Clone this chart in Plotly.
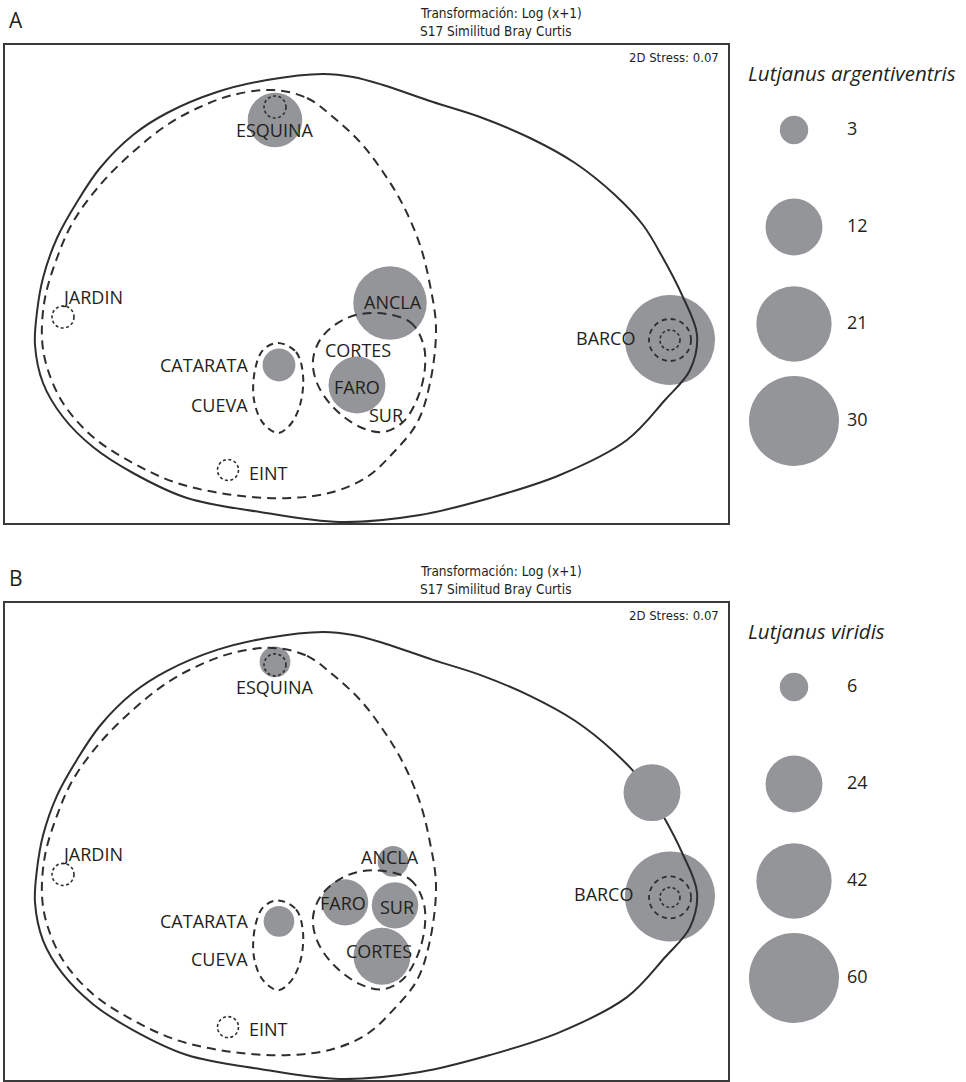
import plotly.graph_objects as go

# ---------------- nMDS ordination: group contours (shared by both panels) ----------------
# outer solid contour
solid_x = [3.31, 3.24, 2.99, 2.61, 1.94, 1.24, 0.54, -0.26, -1.06, -1.79, -2.33, -2.73, -3.03,
           -3.23, -3.31, -3.29, -3.23, -3.09, -2.89, -2.66, -2.33, -1.99, -1.49, -0.99, -0.43,
           -0.13, 0.17, 0.67, 1.14, 1.64, 2.09, 2.49, 2.77, 2.97, 3.16, 3.31]
solid_y = [-0.51, -0.86, -1.16, -1.56, -1.91, -2.14, -2.31, -2.38, -2.28, -2.14, -1.89, -1.63, -1.33,
           -0.99, -0.61, -0.28, 0.06, 0.46, 0.82, 1.16, 1.49, 1.71, 1.92, 2.04, 2.10,
           2.07, 1.99, 1.82, 1.67, 1.46, 1.21, 0.89, 0.59, 0.26, -0.11, -0.51]

# large dashed contour
big_x = [-0.93, -0.59, -0.33, -0.06, 0.17, 0.37, 0.54, 0.64, 0.70, 0.64, 0.51, 0.27, 0.01,
         -0.33, -0.76, -1.33, -1.89, -2.33, -2.73, -3.03, -3.19, -3.24, -3.21, -3.09, -2.93,
         -2.66, -2.33, -1.99, -1.66, -1.33, -0.93]
big_y = [1.94, 1.86, 1.67, 1.42, 1.12, 0.79, 0.39, -0.01, -0.44, -0.99, -1.39, -1.69, -1.93,
         -2.08, -2.14, -2.11, -1.99, -1.79, -1.53, -1.19, -0.83, -0.54, -0.14, 0.26, 0.62,
         0.99, 1.32, 1.59, 1.77, 1.89, 1.94]

# dashed contour around CORTES / FARO / SUR / ANCLA
mid_x = [0.11, 0.44, 0.57, 0.59, 0.52, 0.37, 0.17, -0.06, -0.33, -0.49, -0.53, -0.44, -0.19, 0.11]
mid_y = [-0.29, -0.38, -0.59, -0.83, -1.13, -1.38, -1.48, -1.43, -1.23, -0.99, -0.76, -0.53, -0.34, -0.29]

# dashed contour around CATARATA / CUEVA
cat_x = [-0.88, -0.70, -0.63, -0.66, -0.76, -0.88, -1.03, -1.12, -1.11, -1.03, -0.88]
cat_y = [-0.59, -0.68, -0.91, -1.21, -1.41, -1.49, -1.39, -1.16, -0.86, -0.66, -0.59]

# small rings: JARDIN, EINT, ESQUINA, BARCO (outer), BARCO (inner)
ring_x = [-3.03, -1.38, -0.91, 3.04, 3.04]
ring_y = [-0.33, -1.86, 1.77, -0.56, -0.56]

# ---------------- panel A: Lutjanus argentiventris ----------------
sites_a = ["ESQUINA", "ANCLA", "FARO", "CATARATA", "BARCO"]
bub_x_a = [-0.91, 0.24, -0.09, -0.87, 3.04]
bub_y_a = [1.64, -0.19, -1.01, -0.81, -0.56]
abund_a = [11, 20, 12, 4, 30]
legend_vals_a = [3, 12, 21, 30]

# ---------------- panel B: Lutjanus viridis ----------------
sites_b = ["ESQUINA", "ANCLA", "FARO", "SUR", "CORTES", "CATARATA", "BARCO"]
bub_x_b = [-0.91, 0.27, -0.21, 0.29, 0.16, -0.87, 3.04]
bub_y_b = [1.80, -0.20, -0.61, -0.64, -1.15, -0.80, -0.55]
abund_b = [7, 7, 16, 16, 24, 7, 60]
top_x_b = [2.86]
top_y_b = [0.49]
top_abund_b = [24]
legend_vals_b = [6, 24, 42, 60]

# ---------------- site labels ----------------
label_names = ["ESQUINA", "JARDIN", "ANCLA", "CORTES", "FARO", "SUR", "CATARATA", "CUEVA", "BARCO", "EINT"]
label_x_a = [-0.91, -3.06, 0.27, -0.08, -0.09, 0.20, -1.16, -1.16, 2.71, -1.19]
label_y_a = [1.54, -0.13, -0.18, -0.66, -1.03, -1.31, -0.81, -1.21, -0.54, -1.89]
label_x_b = [-0.91, -3.06, 0.24, 0.13, -0.23, 0.31, -1.16, -1.16, 2.69, -1.19]
label_y_b = [1.55, -0.13, -0.16, -1.10, -0.62, -0.66, -0.80, -1.18, -0.53, -1.88]

# ---------------- styling ----------------
W, H = 966, 1082
INK = "#231f20"
LINE = "#2e2e2e"
BUBBLE = "#939598"
MAX_R = 45  # px radius of the largest legend bubble
label_anchor = ["center", "left", "center", "center", "center", "center", "right", "right", "right", "left"]
ring_r = [11, 10.5, 11, 21, 10]
ring_dash = ["3px,2.5px", "3px,2.5px", "3px,2.5px", "5px,4px", "3px,2.5px"]
ring_w = [1.6, 1.6, 1.6, 1.8, 1.6]
HEAD_FONT = "Liberation Sans Narrow, DejaVu Sans Condensed, Open Sans, sans-serif"
LABEL_FONT = "Open Sans, Noto Sans, sans-serif"


def px_x(px):
    return px / W


def px_y(py):
    return 1 - py / H


fig = go.Figure()


def bubble_marker(sizes, sizeref):
    return dict(size=sizes, sizemode="area", sizeref=sizeref, color=BUBBLE,
                line=dict(width=0), opacity=1)


def add_panel(xa, ya, bx, by, ab, extra, legend_vals, lx, ly):
    sizeref = max(legend_vals) / (2.0 * MAX_R ** 2)
    # abundance bubbles (below the contours)
    fig.add_trace(go.Scatter(x=bx, y=by, mode="markers", xaxis=xa, yaxis=ya, showlegend=False,
                             hoverinfo="skip", marker=bubble_marker(ab, sizeref)))
    # contours
    fig.add_trace(go.Scatter(x=solid_x, y=solid_y, mode="lines", xaxis=xa, yaxis=ya, showlegend=False,
                             hoverinfo="skip", line=dict(color=LINE, width=2, shape="spline", smoothing=1)))
    fig.add_trace(go.Scatter(x=big_x, y=big_y, mode="lines", xaxis=xa, yaxis=ya, showlegend=False,
                             hoverinfo="skip",
                             line=dict(color=LINE, width=2, dash="9px,6px", shape="spline", smoothing=1)))
    fig.add_trace(go.Scatter(x=mid_x, y=mid_y, mode="lines", xaxis=xa, yaxis=ya, showlegend=False,
                             hoverinfo="skip",
                             line=dict(color=LINE, width=2, dash="9px,6px", shape="spline", smoothing=1)))
    fig.add_trace(go.Scatter(x=cat_x, y=cat_y, mode="lines", xaxis=xa, yaxis=ya, showlegend=False,
                             hoverinfo="skip",
                             line=dict(color=LINE, width=2, dash="7px,5px", shape="spline", smoothing=1)))
    # bubble lying over the outer contour
    if extra is not None:
        ex, ey, ea = extra
        fig.add_trace(go.Scatter(x=ex, y=ey, mode="markers", xaxis=xa, yaxis=ya, showlegend=False,
                                 hoverinfo="skip", marker=bubble_marker(ea, sizeref)))
    # rings
    for cx, cy, r, d, w in zip(ring_x, ring_y, ring_r, ring_dash, ring_w):
        fig.add_shape(type="circle", xref=xa, yref=ya, xsizemode="pixel", ysizemode="pixel",
                      xanchor=cx, yanchor=cy, x0=-r, x1=r, y0=-r, y1=r,
                      line=dict(color=LINE, width=w, dash=d))
    # site labels
    for name, tx, ty, anc in zip(label_names, lx, ly, label_anchor):
        fig.add_annotation(x=tx, y=ty, xref=xa, yref=ya, text=name, showarrow=False,
                           xanchor=anc, yanchor="middle",
                           font=dict(family=LABEL_FONT, size=18, color=INK))


def add_legend(xa, ya, legend_vals):
    sizeref = max(legend_vals) / (2.0 * MAX_R ** 2)
    idx = list(range(len(legend_vals)))
    fig.add_trace(go.Scatter(x=[0.5] * len(legend_vals), y=idx, mode="markers", xaxis=xa, yaxis=ya,
                             showlegend=False, hoverinfo="skip", cliponaxis=False,
                             marker=bubble_marker(legend_vals, sizeref)))
    fig.add_trace(go.Scatter(
        x=[1.03] * len(legend_vals), y=idx, mode="text", xaxis=xa, yaxis=ya, showlegend=False,
        hoverinfo="skip", cliponaxis=False, text=[str(v) for v in legend_vals],
        textposition="middle right", textfont=dict(family=LABEL_FONT, size=18, color=INK)))


add_panel("x", "y", bub_x_a, bub_y_a, abund_a, None, legend_vals_a, label_x_a, label_y_a)
add_panel("x2", "y2", bub_x_b, bub_y_b, abund_b, (top_x_b, top_y_b, top_abund_b),
          legend_vals_b, label_x_b, label_y_b)
add_legend("x3", "y3", legend_vals_a)
add_legend("x4", "y4", legend_vals_b)

box_axis = dict(showline=True, mirror=True, linewidth=2, linecolor="#3a3a3a", showgrid=False,
                zeroline=False, showticklabels=False, ticks="", fixedrange=True)
hidden = dict(visible=False, showgrid=False, zeroline=False, fixedrange=True)

fig.update_layout(
    width=W, height=H, margin=dict(l=0, r=0, t=0, b=0),
    paper_bgcolor="white", plot_bgcolor="rgba(0,0,0,0)", showlegend=False,
    xaxis=dict(domain=[px_x(5), px_x(728)], range=[-3.61, 3.62], anchor="y", **box_axis),
    yaxis=dict(domain=[px_y(523), px_y(45)], range=[-2.39, 2.39], anchor="x", **box_axis),
    xaxis2=dict(domain=[px_x(5), px_x(728)], range=[-3.61, 3.62], anchor="y2", **box_axis),
    yaxis2=dict(domain=[px_y(1080), px_y(603)], range=[-2.39, 2.39], anchor="x2", **box_axis),
    xaxis3=dict(domain=[px_x(744), px_x(944)], range=[0, 2], anchor="y3", **hidden),
    yaxis3=dict(domain=[px_y(469.5), px_y(81.5)], range=[3.5, -0.5], anchor="x3", **hidden),
    xaxis4=dict(domain=[px_x(744), px_x(944)], range=[0, 2], anchor="y4", **hidden),
    yaxis4=dict(domain=[px_y(1026.5), px_y(638.5)], range=[3.5, -0.5], anchor="x4", **hidden),
)

# panel headings and annotations
for letter, species, top in (("A", "Lutjanus argentiventris", 0), ("B", "Lutjanus viridis", 558)):
    fig.add_annotation(x=px_x(7), y=px_y(20 + top), xref="paper", yref="paper", text=letter,
                       showarrow=False, xanchor="left", yanchor="middle",
                       font=dict(family=LABEL_FONT, size=21, color=INK))
    fig.add_annotation(x=px_x(418), y=px_y(13 + top), xref="paper", yref="paper",
                       text="Transformación: Log (x+1)", showarrow=False, xanchor="left", yanchor="middle",
                       font=dict(family=HEAD_FONT, size=13.5, color=INK))
    fig.add_annotation(x=px_x(418), y=px_y(31 + top), xref="paper", yref="paper",
                       text="S17 Similitud Bray Curtis", showarrow=False, xanchor="left", yanchor="middle",
                       font=dict(family=HEAD_FONT, size=13.5, color=INK))
    fig.add_annotation(x=px_x(721), y=px_y(57 + top), xref="paper", yref="paper",
                       text="2D Stress: 0.07", showarrow=False, xanchor="right", yanchor="middle",
                       font=dict(family=HEAD_FONT, size=13, color=INK))
    fig.add_annotation(x=px_x(746), y=px_y(73 + top), xref="paper", yref="paper",
                       text="<i>" + species + "</i>", showarrow=False, xanchor="left", yanchor="middle",
                       font=dict(family=LABEL_FONT, size=20.5, color=INK))

fig.write_html("out.html")
